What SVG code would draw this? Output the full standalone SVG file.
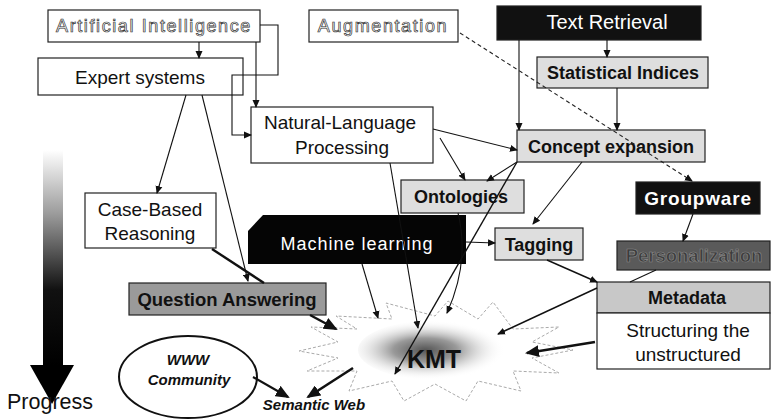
<svg xmlns="http://www.w3.org/2000/svg" width="771" height="419" viewBox="0 0 771 419">
  <style>
    text { font-family: "Liberation Sans", Arial, sans-serif; fill: #111; }
    .box { stroke: #222; stroke-width: 1.2; }
    .white { fill: #fff; }
    .light { fill: #dedede; }
    .mid { fill: #c8c8c8; }
    .grey { fill: #9a9a9a; }
    .dark { fill: #5a5a5a; }
    .black { fill: #111; }
    .reg { font-size: 19px; }
    .bold { font-size: 18px; font-weight: bold; }
    .hollow { font-size: 18px; fill: #fff; stroke: #333; stroke-width: 0.7; letter-spacing: 1.6px; }
    .inv { fill: #fff; }
    .bi { font-size: 15px; font-weight: bold; font-style: italic; }
    .ln { fill: none; stroke: #111; stroke-width: 1.1; }
    .thick { fill: none; stroke: #111; stroke-width: 2.8; }
    .dash { fill: none; stroke: #222; stroke-width: 1.1; stroke-dasharray: 4 3; }
  </style>
  <defs>
    <marker id="arr" markerUnits="userSpaceOnUse" markerWidth="8" markerHeight="8" refX="7" refY="4" orient="auto">
      <path d="M0,0.5 L8,4 L0,7.5 z" fill="#111"/>
    </marker>
    <marker id="arrBig" markerUnits="userSpaceOnUse" markerWidth="14" markerHeight="12" refX="12" refY="6" orient="auto">
      <path d="M0,0 L14,6 L0,12 z" fill="#111"/>
    </marker>
    <linearGradient id="progressFade" x1="0" y1="150" x2="0" y2="365" gradientUnits="userSpaceOnUse">
      <stop offset="0" stop-color="#fff"/>
      <stop offset="0.3" stop-color="#9a9a9a"/>
      <stop offset="0.65" stop-color="#111"/>
      <stop offset="1" stop-color="#000"/>
    </linearGradient>
    <radialGradient id="kmtGlow" cx="0.42" cy="0.5" r="0.5">
      <stop offset="0" stop-color="#555"/>
      <stop offset="0.4" stop-color="#999"/>
      <stop offset="1" stop-color="#fff" stop-opacity="0"/>
    </radialGradient>
  </defs>

  <!-- progress arrow on the left -->
  <g id="progress">
    <rect x="43" y="150" width="20" height="216" fill="url(#progressFade)"/>
    <path d="M30,365 L74,365 L52,404 z" fill="#000"/>
    <text x="7" y="409" font-size="21.5">Progress</text>
  </g>

  <!-- central starburst -->
  <g id="kmt">
    <polygon points="573,350 532,358 559,373 513,371 521,391 478,381 466,401 435,384 404,401 392,381 349,391 357,371 307,371 338,358 299,351 338,342 311,327 357,329 336,316 392,319 386,303 435,316 448,301 478,319 493,302 513,329 559,327 532,342" fill="#fff" stroke="#aaa" stroke-width="1" stroke-dasharray="3 2"/>
    <ellipse cx="438" cy="350" rx="80" ry="30" fill="url(#kmtGlow)"/>
    <text x="434" y="368" font-size="25" font-weight="bold" text-anchor="middle">KMT</text>
  </g>

  <g id="artificial-intelligence">
    <rect class="box white" x="48" y="10" width="212" height="32"/>
    <text class="hollow" x="154" y="32" text-anchor="middle">Artificial Intelligence</text>
  </g>
  <g id="augmentation">
    <rect class="box white" x="309" y="10" width="149" height="32"/>
    <text class="hollow" x="383" y="32" text-anchor="middle">Augmentation</text>
  </g>
  <g id="text-retrieval">
    <rect class="box black" x="497" y="6" width="204" height="34"/>
    <text class="inv" x="607" y="29" font-size="20" text-anchor="middle">Text Retrieval</text>
  </g>
  <g id="expert-systems">
    <rect class="box white" x="38" y="58" width="205" height="37"/>
    <text class="reg" x="140" y="84" text-anchor="middle" font-size="19.5">Expert systems</text>
  </g>
  <g id="statistical-indices">
    <rect class="box light" x="537" y="57" width="171" height="31"/>
    <text class="bold" x="623" y="79" text-anchor="middle">Statistical Indices</text>
  </g>
  <g id="nlp">
    <rect class="box white" x="251" y="107" width="182" height="56"/>
    <text class="reg" x="340" y="129" text-anchor="middle">Natural-Language</text>
    <text class="reg" x="342" y="154" text-anchor="middle">Processing</text>
  </g>
  <g id="concept-expansion">
    <rect class="box light" x="517" y="130" width="188" height="32"/>
    <text class="bold" x="611" y="153" text-anchor="middle">Concept expansion</text>
  </g>
  <g id="ontologies">
    <rect class="box light" x="401" y="180" width="123" height="33"/>
    <text class="bold" x="461" y="203" text-anchor="middle">Ontologies</text>
  </g>
  <g id="groupware">
    <rect class="box black" x="636" y="182" width="124" height="32"/>
    <text class="inv" x="698" y="205" font-size="19" font-weight="bold" letter-spacing="0.8" text-anchor="middle">Groupware</text>
  </g>
  <g id="case-based-reasoning">
    <rect class="box white" x="85" y="193" width="131" height="55"/>
    <text class="reg" x="150" y="216" text-anchor="middle">Case-Based</text>
    <text class="reg" x="150" y="240" text-anchor="middle">Reasoning</text>
  </g>
  <g id="machine-learning">
    <polygon points="263,215 466,215 466,264 248,264 248,231" fill="#050505"/>
    <text x="357" y="250" font-size="18" letter-spacing="1" text-anchor="middle" style="fill:#fff">Machine learning</text>
  </g>
  <g id="tagging">
    <rect class="box light" x="495" y="228" width="88" height="32"/>
    <text class="bold" x="539" y="251" text-anchor="middle">Tagging</text>
  </g>
  <g id="personalization">
    <rect class="box dark" x="617" y="241" width="153" height="29"/>
    <text x="694" y="262" font-size="18.5" font-weight="bold" text-anchor="middle" style="fill:#3c3c3c;stroke:#8a8a8a;stroke-width:0.6">Personalization</text>
  </g>
  <g id="question-answering">
    <rect class="box grey" x="129" y="283" width="197" height="32"/>
    <text class="bold" x="227" y="306" text-anchor="middle" style="font-size:18.5px">Question Answering</text>
  </g>
  <g id="metadata">
    <rect class="box mid" x="597" y="282" width="173" height="31"/>
    <text class="bold" x="687" y="304" text-anchor="middle">Metadata</text>
  </g>
  <g id="structuring">
    <rect class="box white" x="597" y="313" width="173" height="56"/>
    <text class="reg" x="688" y="337" text-anchor="middle" font-size="19.5">Structuring the</text>
    <text class="reg" x="688" y="361" text-anchor="middle" font-size="19.5">unstructured</text>
  </g>
  <g id="www-community">
    <ellipse cx="188" cy="377" rx="69" ry="41" fill="#fff" stroke="#111" stroke-width="2"/>
    <text class="bi" x="188" y="365" text-anchor="middle" font-size="16">WWW</text>
    <text class="bi" x="189" y="385" text-anchor="middle">Community</text>
  </g>
  <g id="semantic-web">
    <text class="bi" x="314" y="410" text-anchor="middle" font-size="14">Semantic Web</text>
  </g>

  <!-- connectors -->
  <g id="connectors">
    <line class="ln" x1="199" y1="42" x2="199" y2="58" marker-end="url(#arr)"/>
    <line class="ln" x1="256" y1="42" x2="256" y2="107" marker-end="url(#arr)"/>
    <path class="ln" d="M260,25 H278 V75 H232 V135 H251" marker-end="url(#arr)"/>
    <line class="ln" x1="186" y1="95" x2="157" y2="193" marker-end="url(#arr)"/>
    <line class="ln" x1="202" y1="95" x2="248" y2="281" marker-end="url(#arr)"/>
    <line class="thick" x1="212" y1="249" x2="264" y2="283" style="stroke-width:2.4"/>
    <line class="thick" x1="310" y1="315" x2="336" y2="329" marker-end="url(#arrBig)" style="stroke-width:2.4"/>
    <line class="thick" x1="253" y1="377" x2="288" y2="397" marker-end="url(#arrBig)" style="stroke-width:2.2"/>
    <line class="thick" x1="353" y1="368" x2="308" y2="397" marker-end="url(#arrBig)" style="stroke-width:2.6"/>
    <line class="ln" x1="362" y1="264" x2="378" y2="318" marker-end="url(#arr)"/>
    <line class="ln" x1="390" y1="163" x2="418" y2="328" marker-end="url(#arr)"/>
    <path class="ln" d="M458,213 Q470,262 447,313" marker-end="url(#arr)"/>
    <line class="ln" x1="517" y1="162" x2="395" y2="374" marker-end="url(#arr)" style="stroke-width:1.4"/>
    <line class="ln" x1="517" y1="162" x2="487" y2="181" marker-end="url(#arr)"/>
    <line class="ln" x1="440" y1="138" x2="465" y2="180" marker-end="url(#arr)"/>
    <line class="ln" x1="433" y1="129" x2="517" y2="150" marker-end="url(#arr)"/>
    <line class="ln" x1="582" y1="162" x2="533" y2="224" marker-end="url(#arr)"/>
    <line class="ln" x1="519" y1="40" x2="519" y2="130" marker-end="url(#arr)"/>
    <line class="ln" x1="607" y1="40" x2="607" y2="57" marker-end="url(#arr)"/>
    <line class="ln" x1="617" y1="88" x2="617" y2="130" marker-end="url(#arr)"/>
    <line class="dash" x1="460" y1="33" x2="692" y2="181" marker-end="url(#arr)"/>
    <line class="ln" x1="693" y1="214" x2="683" y2="241" marker-end="url(#arr)"/>
    <line class="ln" x1="656" y1="270" x2="630" y2="282"/>
    <line class="ln" x1="547" y1="260" x2="597" y2="282" marker-end="url(#arr)" style="stroke-width:1.4"/>
    <line class="ln" x1="597" y1="288" x2="498" y2="334" marker-end="url(#arr)" style="stroke-width:1.5"/>
    <line class="thick" x1="595" y1="342" x2="527" y2="353" marker-end="url(#arrBig)" style="stroke-width:2.6"/>
    <line class="ln" x1="466" y1="242" x2="495" y2="243" marker-end="url(#arr)"/>
  </g>
</svg>
